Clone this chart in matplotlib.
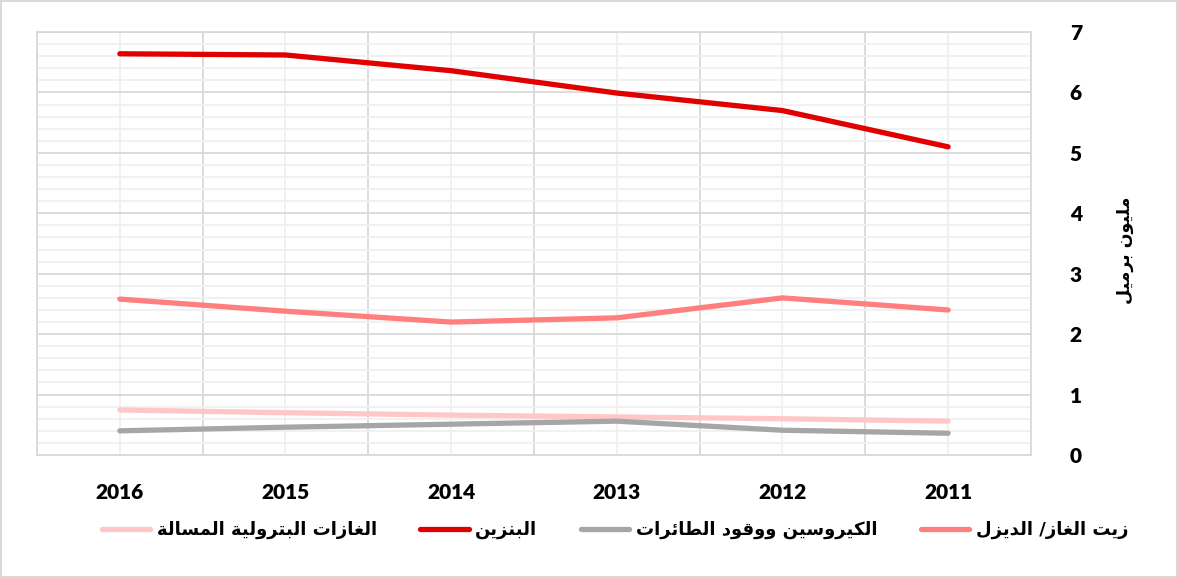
import numpy as np
import matplotlib
matplotlib.use("Agg")
import matplotlib.pyplot as plt
from matplotlib.ticker import MultipleLocator

years = ["2011", "2012", "2013", "2014", "2015", "2016"]
gasoline = [5.10, 5.70, 5.99, 6.36, 6.62, 6.64]
diesel = [2.40, 2.60, 2.27, 2.20, 2.38, 2.58]
kerosene = [0.36, 0.41, 0.56, 0.51, 0.46, 0.40]
lpg = [0.56, 0.60, 0.63, 0.66, 0.70, 0.745]

names = {
    "lpg": "الغازات البترولية المسالة",
    "gasoline": "البنزين",
    "kerosene": "الكيروسين ووقود الطائرات",
    "diesel": "زيت الغاز/ الديزل",
}
ylabel = "مليون برميل"

# matplotlib has no arabic shaping, so map letters to presentation forms by hand
# (isolated, final, initial, medial); right-joining letters only have two forms
FORMS = {
    "ا": ("\uFE8D", "\uFE8E"), "ب": ("\uFE8F", "\uFE90", "\uFE91", "\uFE92"),
    "ت": ("\uFE95", "\uFE96", "\uFE97", "\uFE98"), "ة": ("\uFE93", "\uFE94"),
    "د": ("\uFEA9", "\uFEAA"), "ر": ("\uFEAD", "\uFEAE"), "ز": ("\uFEAF", "\uFEB0"),
    "س": ("\uFEB1", "\uFEB2", "\uFEB3", "\uFEB4"), "ط": ("\uFEC1", "\uFEC2", "\uFEC3", "\uFEC4"),
    "غ": ("\uFECD", "\uFECE", "\uFECF", "\uFED0"), "ق": ("\uFED5", "\uFED6", "\uFED7", "\uFED8"),
    "ك": ("\uFED9", "\uFEDA", "\uFEDB", "\uFEDC"), "ل": ("\uFEDD", "\uFEDE", "\uFEDF", "\uFEE0"),
    "م": ("\uFEE1", "\uFEE2", "\uFEE3", "\uFEE4"), "ن": ("\uFEE5", "\uFEE6", "\uFEE7", "\uFEE8"),
    "و": ("\uFEED", "\uFEEE"), "ي": ("\uFEF1", "\uFEF2", "\uFEF3", "\uFEF4"),
    "ئ": ("\uFE89", "\uFE8A", "\uFE8B", "\uFE8C"),
}


def shape(s):
    out = []
    for i, c in enumerate(s):
        if c not in FORMS:
            out.append(c)
            continue
        prev = s[i - 1] if i > 0 else ""
        nxt = s[i + 1] if i + 1 < len(s) else ""
        join_prev = prev in FORMS and len(FORMS[prev]) == 4
        join_next = len(FORMS[c]) == 4 and nxt in FORMS
        f = FORMS[c]
        if join_prev and join_next:
            out.append(f[3])
        elif join_prev:
            out.append(f[1])
        elif join_next:
            out.append(f[2])
        else:
            out.append(f[0])
    return "".join(out)[::-1]


fig = plt.figure(figsize=(11.78, 5.78), dpi=100)
fig.patch.set_edgecolor("#D9D9D9")
fig.patch.set_linewidth(1.5)
ax = fig.add_axes([0.0314, 0.2128, 0.8438, 0.7318])

x = np.arange(len(years))
lw = 3.8
l_lpg, = ax.plot(x, lpg, color="#FFC7C7", lw=lw, solid_capstyle="round", label=shape(names["lpg"]))
l_gas, = ax.plot(x, gasoline, color="#E00000", lw=lw, solid_capstyle="round", label=shape(names["gasoline"]))
l_ker, = ax.plot(x, kerosene, color="#A6A6A6", lw=lw, solid_capstyle="round", label=shape(names["kerosene"]))
l_die, = ax.plot(x, diesel, color="#FF7F7F", lw=lw, solid_capstyle="round", label=shape(names["diesel"]))

ax.set_xlim(-0.5, len(years) - 0.5)
ax.invert_xaxis()
ax.set_ylim(0, 7)

ax.set_xticks(x)
ax.set_xticklabels(years)
ax.set_xticks(np.arange(-0.5, len(years)), minor=True)
ax.yaxis.set_major_locator(MultipleLocator(1))
ax.yaxis.set_minor_locator(MultipleLocator(0.2))

ax.grid(True, which="major", axis="y", color="#D9D9D9", lw=1.3)
ax.grid(True, which="minor", axis="y", color="#F0F0F0", lw=1.3)
ax.grid(True, which="minor", axis="x", color="#D9D9D9", lw=1.3)
ax.grid(True, which="major", axis="x", color="#F0F0F0", lw=1.3)
ax.set_axisbelow(True)
for sp in ax.spines.values():
    sp.set_color("#D9D9D9")
    sp.set_linewidth(1.3)

ax.yaxis.tick_right()
ax.tick_params(which="both", length=0)
ax.tick_params(axis="y", pad=28)
ax.tick_params(axis="x", pad=20)
for lab in ax.get_xticklabels() + ax.get_yticklabels():
    lab.set_fontfamily("Lato")
    lab.set_fontweight("heavy")
    lab.set_fontsize(15)

fig.text(0.955, 0.567, shape(ylabel), family="DejaVu Sans", weight="bold", fontsize=12.5,
         rotation=90, ha="center", va="center")

fig.legend(handles=[l_lpg, l_gas, l_ker, l_die], loc="center", bbox_to_anchor=(0.522, 0.083),
           ncol=4, frameon=False, prop={"family": "DejaVu Sans", "weight": "bold", "size": 13},
           handlelength=2.7, columnspacing=2.4, handletextpad=0.35)

fig.savefig("out.png", dpi=100)
